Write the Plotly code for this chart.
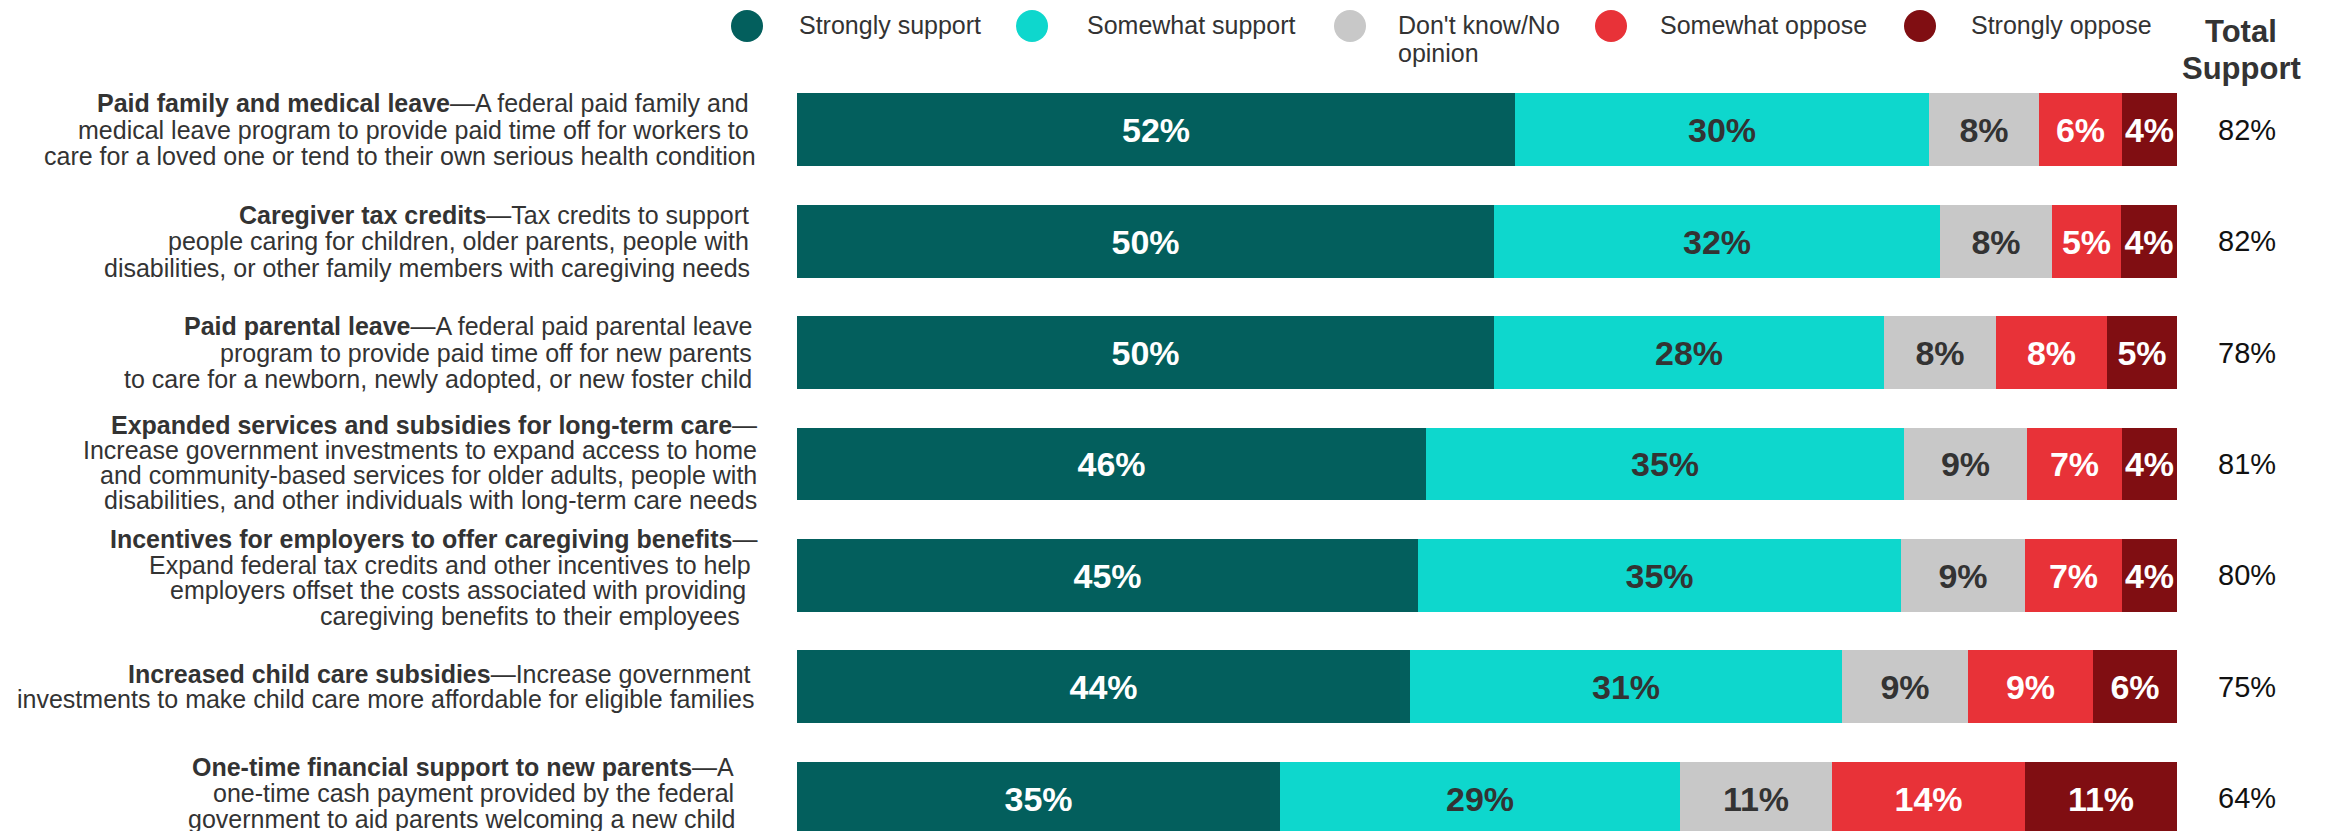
import plotly.graph_objects as go

# ---- survey data -------------------------------------------------------
policies = [
    "Paid family and medical leave",
    "Caregiver tax credits",
    "Paid parental leave",
    "Expanded services and subsidies for long-term care",
    "Incentives for employers to offer caregiving benefits",
    "Increased child care subsidies",
    "One-time financial support to new parents",
]

strongly_support = [52, 50, 50, 46, 45, 44, 35]
somewhat_support = [30, 32, 28, 35, 35, 31, 29]
dont_know = [8, 8, 8, 9, 9, 9, 11]
somewhat_oppose = [6, 5, 8, 7, 7, 9, 14]
strongly_oppose = [4, 4, 5, 4, 4, 6, 11]

series_names = ["Strongly support", "Somewhat support", "Don't know/No<br>opinion",
                "Somewhat oppose", "Strongly oppose"]
series_values = [strongly_support, somewhat_support, dont_know,
                 somewhat_oppose, strongly_oppose]

# row descriptions, one entry per line (first line carries the bold title)
descriptions = [
    ["<b>Paid family and medical leave</b>—A federal paid family and",
     "medical leave program to provide paid time off for workers to",
     "care for a loved one or tend to their own serious health condition"],
    ["<b>Caregiver tax credits</b>—Tax credits to support",
     "people caring for children, older parents, people with",
     "disabilities, or other family members with caregiving needs"],
    ["<b>Paid parental leave</b>—A federal paid parental leave",
     "program to provide paid time off for new parents",
     "to care for a newborn, newly adopted, or new foster child"],
    ["<b>Expanded services and subsidies for long-term care</b>—",
     "Increase government investments to expand access to home",
     "and community-based services for older adults, people with",
     "disabilities, and other individuals with long-term care needs"],
    ["<b>Incentives for employers to offer caregiving benefits</b>—",
     "Expand federal tax credits and other incentives to help",
     "employers offset the costs associated with providing",
     "caregiving benefits to their employees"],
    ["<b>Increased child care subsidies</b>—Increase government",
     "investments to make child care more affordable for eligible families"],
    ["<b>One-time financial support to new parents</b>—A",
     "one-time cash payment provided by the federal",
     "government to aid parents welcoming a new child"],
]

# ---- styling -----------------------------------------------------------
W, H = 2328, 831
FONT = "Liberation Sans, Arial, sans-serif"
colors = ["#035F5D", "#0ED7CD", "#C8C8C8", "#E83238", "#800E12"]
label_colors = ["white", "#333333", "#333333", "white", "white"]

# right edges (px) of description lines, line pitch and vertical nudge per row
line_right = [
    [751, 751, 758], [751, 751, 752], [754, 754, 754],
    [759, 759, 759, 759], [759, 753, 748, 742], [753, 756], [736, 736, 738],
]
line_pitch = [26.5, 26.5, 26.5, 25, 25.5, 25, 26]
row_nudge = [0, 0, 0, 2, -2, 0, 5]

# geometry of the bar area
bar_left, bar_right = 797, 2177
row0_center, row_pitch, bar_px = 129.8, 111.4, 72.7
y_top = -row0_center / row_pitch
y_bottom = (H - row0_center) / row_pitch

fig = go.Figure()

for name, vals, col, tcol in zip(series_names, series_values, colors, label_colors):
    fig.add_trace(go.Bar(
        y=policies,
        x=vals,
        orientation="h",
        name=name,
        marker=dict(color=col, line=dict(width=0)),
        width=bar_px / row_pitch,
        text=[f"{v}%" for v in vals],
        textposition="inside",
        insidetextanchor="middle",
        textangle=0,
        textfont=dict(family=FONT, size=34, color=tcol, weight="bold"),
        hoverinfo="skip",
        showlegend=False,
    ))

annotations = []
shapes = []

# description labels, line by line, right-aligned
for policy, lines, rights, pitch, nudge in zip(policies, descriptions, line_right,
                                               line_pitch, row_nudge):
    n = len(lines)
    for k, (line, rx) in enumerate(zip(lines, rights)):
        annotations.append(dict(
            xref="paper", x=rx / W, xanchor="right",
            yref="y", y=policy, yanchor="middle",
            yshift=-(k - (n - 1) / 2) * pitch + nudge,
            text=line, showarrow=False, align="right",
            font=dict(family=FONT, size=25, color="#333333"),
        ))

# total support column
total_support = [a + b for a, b in zip(strongly_support, somewhat_support)]
for policy, tot in zip(policies, total_support):
    annotations.append(dict(
        xref="paper", x=2247 / W, xanchor="center",
        yref="y", y=policy, yanchor="middle",
        text=f"{tot}%", showarrow=False,
        font=dict(family=FONT, size=29, color="#111111"),
    ))
for txt, py in [("Total", 31), ("Support", 69)]:
    annotations.append(dict(
        xref="paper", x=2241 / W, xanchor="center",
        yref="paper", y=1 - py / H, yanchor="middle",
        text=f"<b>{txt}</b>", showarrow=False,
        font=dict(family=FONT, size=31, color="#333333"),
    ))

# legend: circle markers with labels
legend_circle_x = [747, 1032, 1350, 1611, 1920]
legend_text_x = [797, 1085, 1396, 1658, 1969]
for name, col, cx, tx in zip(series_names, colors, legend_circle_x, legend_text_x):
    shapes.append(dict(
        type="circle", xref="paper", yref="paper",
        xsizemode="pixel", ysizemode="pixel",
        xanchor=cx / W, yanchor=1 - 26 / H,
        x0=-16, x1=16, y0=-16, y1=16,
        fillcolor=col, line=dict(width=0),
    ))
    parts = name.split("<br>")
    for k, part in enumerate(parts):
        annotations.append(dict(
            xref="paper", x=tx / W, xanchor="left",
            yref="paper", y=1 - (25 + 28 * k) / H, yanchor="middle",
            text=part, showarrow=False, align="left",
            font=dict(family=FONT, size=25, color="#333333"),
        ))

fig.update_layout(
    width=W, height=H,
    margin=dict(l=0, r=0, t=0, b=0),
    barmode="stack",
    barnorm="percent",
    bargap=0,
    paper_bgcolor="white",
    plot_bgcolor="white",
    uniformtext=dict(minsize=34, mode="show"),
    xaxis=dict(domain=[bar_left / W, bar_right / W], range=[0, 100],
               visible=False, fixedrange=True),
    yaxis=dict(type="category", categoryorder="array", categoryarray=policies,
               range=[y_bottom, y_top], visible=False, fixedrange=True),
    annotations=annotations,
    shapes=shapes,
    showlegend=False,
)

fig.write_html("out.html")
